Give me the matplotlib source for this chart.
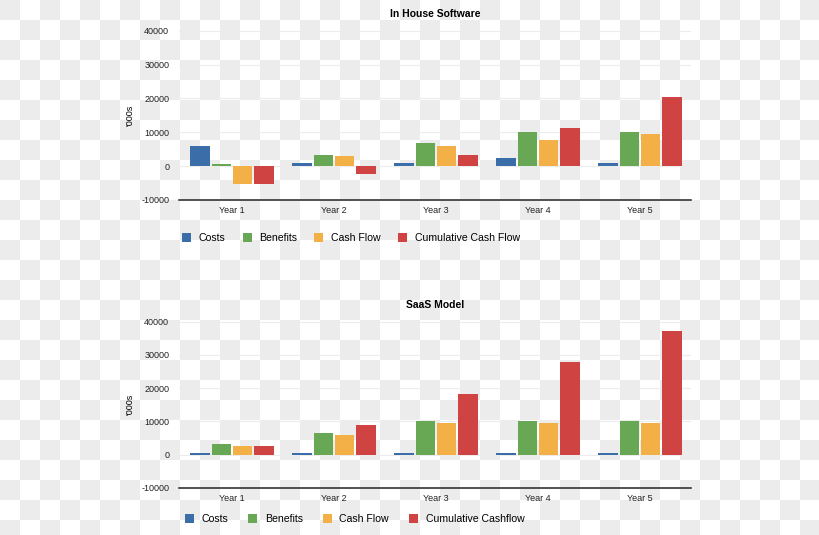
import numpy as np
import matplotlib
matplotlib.use("Agg")
import matplotlib.pyplot as plt

plt.rcParams['font.family'] = ['Liberation Sans', 'DejaVu Sans']

years = ["Year 1", "Year 2", "Year 3", "Year 4", "Year 5"]

# In House Software ('000s)
inhouse_costs = [6000, 800, 800, 2400, 800]
inhouse_benefits = [700, 3400, 6700, 10100, 10100]
inhouse_cashflow = [-5300, 2950, 6000, 7700, 9450]
inhouse_cumulative = [-5300, -2350, 3400, 11200, 20300]

# SaaS Model ('000s)
saas_costs = [600, 400, 400, 400, 400]
saas_benefits = [3300, 6550, 10000, 10000, 10050]
saas_cashflow = [2600, 6050, 9600, 9600, 9600]
saas_cumulative = [2600, 8850, 18250, 28000, 37350]

colors = ['#3b6ea8', '#68a854', '#f2b047', '#d04343']
yticks = [-10000, 0, 10000, 20000, 30000, 40000]

fig = plt.figure(figsize=(8.2, 5.35), dpi=100)

# transparency checkerboard behind everything
bg = fig.add_axes([0, 0, 1, 1], zorder=-10)
rows, cols = np.indices((27, 41))
checker = np.where((rows + cols) % 2 == 0, 0.922, 1.0)
bg.imshow(checker, cmap='gray', vmin=0, vmax=1, extent=[0, 820, 540, 0],
          interpolation='nearest', aspect='auto')
bg.set_xlim(0, 820)
bg.set_ylim(535, 0)
bg.axis('off')


def draw(rect, title, series, labels, title_y, legend_x, legend_y, colspacing):
    ax = fig.add_axes(rect)
    ax.patch.set_alpha(0)
    x = np.arange(len(years))
    offsets = [-0.315, -0.105, 0.105, 0.315]
    handles = []
    for vals, off, c, lab in zip(series, offsets, colors, labels):
        h = ax.bar(x + off, vals, width=0.19, color=c, label=lab, zorder=3)
        handles.append(h)
    ax.set_xlim(-0.52, 4.5)
    ax.set_ylim(-10000, 40000)
    ax.set_yticks(yticks)
    ax.set_yticklabels([str(t) for t in yticks])
    ax.set_xticks(x)
    ax.set_xticklabels(years)
    ax.tick_params(axis='both', length=0, labelsize=6.5, colors='#222222')
    ax.tick_params(axis='x', pad=4)
    ax.tick_params(axis='y', pad=7)
    ax.grid(axis='y', color='#ececec', linewidth=0.8, zorder=0)
    for s in ['top', 'right', 'left']:
        ax.spines[s].set_visible(False)
    ax.spines['bottom'].set_color('#222222')
    ax.spines['bottom'].set_linewidth(1.1)
    ax.set_ylabel("'000s", fontsize=6.5, labelpad=5)
    fig.text(0.5305, title_y, title, fontsize=7.5, fontweight='bold',
             ha='center', va='center')
    fig.legend(handles=handles, labels=labels, loc='center left',
               bbox_to_anchor=(legend_x, legend_y), ncol=4, frameon=False,
               fontsize=7.6, handlelength=0.85, handleheight=0.85,
               handletextpad=0.75, columnspacing=colspacing,
               borderaxespad=0, borderpad=0)
    return ax


draw([0.2183, 0.6262, 0.6244, 0.3164], "In House Software",
     [inhouse_costs, inhouse_benefits, inhouse_cashflow, inhouse_cumulative],
     ["Costs", "Benefits", "Cash Flow", "Cumulative Cash Flow"],
     0.974, 0.222, 0.555, 1.6)

draw([0.2183, 0.0879, 0.6244, 0.3108], "SaaS Model",
     [saas_costs, saas_benefits, saas_cashflow, saas_cumulative],
     ["Costs", "Benefits", "Cash Flow", "Cumulative Cashflow"],
     0.430, 0.2256, 0.030, 1.85)

fig.savefig("out.png", dpi=100)
